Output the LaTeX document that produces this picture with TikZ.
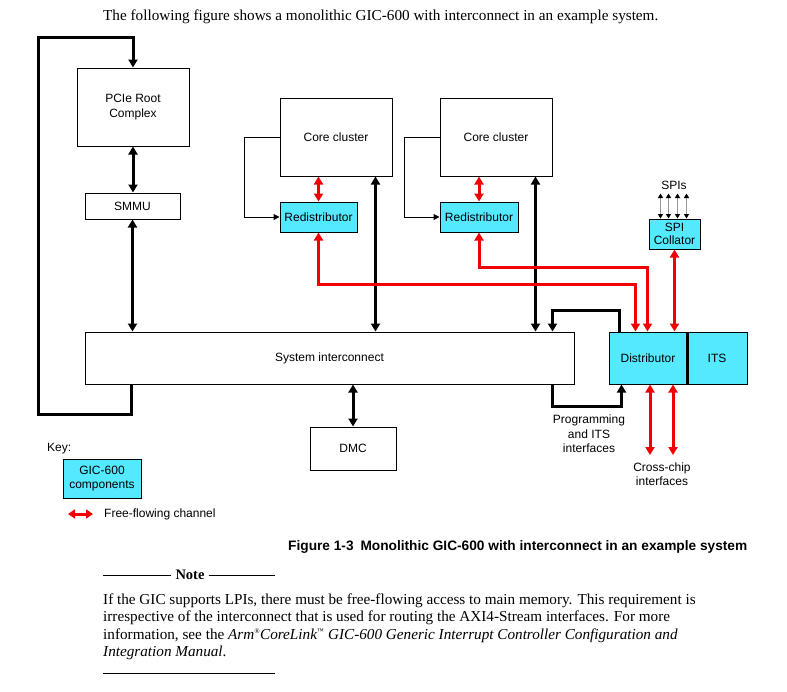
\documentclass[tikz,border=0pt]{standalone}
\usepackage{fontspec}
\setmainfont{Liberation Serif}
\newfontfamily\arial{Liberation Sans}
\usetikzlibrary{arrows.meta}
\definecolor{gicfill}{RGB}{85,233,255}
\definecolor{chanred}{RGB}{240,0,0}
\begin{document}
\begin{tikzpicture}[x=1pt,y=-1pt,
  box/.style={draw=black,line width=1pt,fill=white,inner sep=0pt,align=center,
    font=\arial\fontsize{12}{15}\selectfont},
  gic/.style={box,fill=gicfill},
  blk/.style={draw=black,line width=3pt},
  redch/.style={draw=chanred,line width=3pt},
  bothb/.style={{Triangle[length=8pt,width=9pt]}-{Triangle[length=8pt,width=9pt]}},
  tob/.style={-{Triangle[length=8pt,width=9pt]}},
  thinarr/.style={draw=black,line width=1pt,-{Triangle[length=6pt,width=6pt]}},
  spiarr/.style={draw=gray!80,line width=1.6pt,
    {Triangle[length=4.5pt,width=5pt,black]}-{Triangle[length=4.5pt,width=5pt,black]}},
  lbl/.style={inner sep=0pt,align=center,font=\arial\fontsize{12}{14.5}\selectfont},
  serif/.style={inner sep=0pt,font=\fontsize{15.2}{17}\selectfont}
]
\useasboundingbox (0,0) rectangle (787,691);

% top text
\node[serif,anchor=base west] (intro) at (103,20.5) {The following figure shows a monolithic GIC-600 with interconnect in an example system.};

% boxes
\node[box,minimum width=112pt,minimum height=78pt] (pcie) at (133,107) {PCIe Root\\Complex};
\node[box,minimum width=95pt,minimum height=26pt] (smmu) at (132.5,206) {SMMU};
\node[box,minimum width=489pt,minimum height=52pt] (ic) at (329.5,358) {System interconnect};
\node[box,minimum width=86pt,minimum height=43pt] (dmc) at (353,448.5) {DMC};
\node[box,minimum width=112pt,minimum height=78pt] (core1) at (336,137) {Core cluster};
\node[box,minimum width=112pt,minimum height=78pt] (core2) at (496,137) {Core cluster};
\node[gic,minimum width=77pt,minimum height=30pt] (red1) at (318.5,217) {Redistributor};
\node[gic,minimum width=78pt,minimum height=30pt] (red2) at (479,217) {Redistributor};
\node[gic,minimum width=78pt,minimum height=52pt] (dist) at (648,358) {Distributor};
\node[gic,minimum width=60pt,minimum height=52pt] (its) at (717,358) {ITS};
\draw[line width=2.5pt] (dist.north east) -- (dist.south east);
\node[gic,minimum width=51pt,minimum height=30pt,font=\arial\fontsize{12}{13}\selectfont] (spi) at (674.5,234) {SPI\\Collator};
\node[lbl] (spis) at (674,185) {SPIs};

% PCIe / SMMU / interconnect
\draw[blk,bothb] (pcie.south) -- (smmu.north -| pcie.south);
\draw[blk,bothb] (smmu.south) -- (smmu.south |- ic.north);
\draw[blk,bothb] (dmc.north) -- (dmc.north |- ic.south);
\coordinate (loopTL) at (38,37);
\draw[blk,tob,line join=miter] ([xshift=47pt]ic.south west) -- ++(0,30) -| (loopTL) -| (pcie.north);

% cores
\draw[thinarr] (core1.west) -- ++(-35,0) |- (red1.west);
\draw[thinarr] (core2.west) -- ++(-35,0) |- (red2.west);
\draw[redch,bothb] (red1.north) -- (red1.north |- core1.south);
\draw[redch,bothb] (red2.north) -- (red2.north |- core2.south);
\draw[blk,bothb] ([xshift=-17pt]core1.south east) -- ([xshift=-17pt]core1.south east |- ic.north);
\draw[blk,bothb] ([xshift=-17pt]core2.south east) -- ([xshift=-17pt]core2.south east |- ic.north);

% red channels to distributor
\draw[redch,bothb,line join=miter] (red1.south) -- ++(0,52) -| ([xshift=27pt]dist.north west);
\draw[redch,bothb,line join=miter] (red2.south) -- ++(0,35) -| ([xshift=39pt]dist.north west);
\draw[redch,bothb] (spi.south) -- (spi.south |- dist.north);

% SPIs
\foreach \dx/\nm in {12/s1,20/s2,29/s3,38/s4}{
  \coordinate (\nm) at ([xshift=\dx pt,yshift=25pt]spi.north west);
  \draw[spiarr] ([xshift=\dx pt]spi.north west) -- (\nm);
}

% programming interfaces
\draw[blk,tob,line join=miter] ([xshift=11pt]dist.north west) -- ++(0,-21) -| ([xshift=-22pt]ic.north east);
\draw[blk,tob,line join=miter] ([xshift=-22pt]ic.south east) -- ++(0,22) -| ([xshift=13pt]dist.south west);
\node[lbl] (prog) at (589,434) {Programming\\and ITS\\interfaces};

% cross-chip
\coordinate (cc1) at (650,455);
\coordinate (cc2) at (673,455);
\draw[redch,bothb] (cc1 |- dist.south) -- (cc1);
\draw[redch,bothb] (cc2 |- dist.south) -- (cc2);
\node[lbl] (cross) at (662,474) {Cross-chip\\interfaces};

% key
\node[lbl,anchor=west] (key) at (47,449) {Key:};
\node[gic,minimum width=78pt,minimum height=39pt,font=\arial\fontsize{12}{14.5}\selectfont] (keybox) at (102,478.5) {GIC-600\\components};
\coordinate (k1) at (68,514);
\coordinate (k2) at (93,514);
\draw[redch,line width=3pt,{Triangle[length=7pt,width=9pt]}-{Triangle[length=7pt,width=9pt]}] (k1) -- (k2);
\node[lbl,anchor=west] (freeflow) at (104,514) {Free-flowing channel};

% caption
\node[inner sep=0pt,anchor=base west,font=\arial\bfseries\fontsize{13.7}{15}\selectfont] (cap) at (288,550) {Figure 1-3\enspace Monolithic GIC-600 with interconnect in an example system};

% note
\node[serif,anchor=base,font=\bfseries\fontsize{14.5}{17}\selectfont] (notehd) at (190,579.5) {Note};
\draw[line width=0.8pt] (103,575) -- ([xshift=-4pt]notehd.west |- 0,575);
\draw[line width=0.8pt] ([xshift=4pt]notehd.east |- 0,575) -- (275,575);
\node[serif,anchor=base west] (n1) at (103,604) {If the GIC supports LPIs, there must be free-flowing access to main memory. This requirement is};
\node[serif,anchor=base west] (n2) at (103,621.5) {irrespective of the interconnect that is used for routing the AXI4-Stream interfaces. For more};
\node[serif,anchor=base west] (n3) at (103,639) {information, see the \textit{Arm\textsuperscript{\scriptsize\textregistered}CoreLink\textsuperscript{\scriptsize\texttrademark} GIC-600 Generic Interrupt Controller Configuration and}};
\node[serif,anchor=base west] (n4) at (103,656.5) {\textit{Integration Manual}.};
\draw[line width=0.8pt] (103,673) -- (275,673);
\end{tikzpicture}
\end{document}
